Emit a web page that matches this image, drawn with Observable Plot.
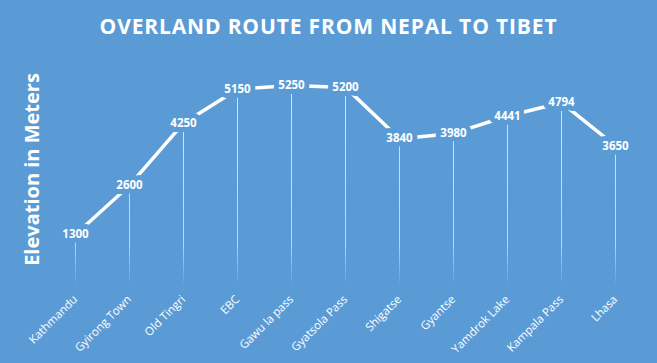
<!DOCTYPE html>
<html><head><meta charset="utf-8">
<script src="https://cdn.jsdelivr.net/npm/d3@7"></script>
<script src="https://cdn.jsdelivr.net/npm/@observablehq/plot@0.6"></script>
<style>
body{margin:0;}
#chart{width:657px;height:363px;background:#5B9BD5;font-family:"Open Sans",sans-serif;color:#fff;overflow:hidden;}
#title{height:50px;line-height:52px;text-align:center;font-weight:bold;font-size:21px;letter-spacing:0.85px;}
svg{display:block;}
</style></head><body>
<div id="chart"><div id="title">OVERLAND ROUTE FROM NEPAL TO TIBET</div></div>
<script>
const places = ["Kathmandu","Gyirong Town","Old Tingri","EBC","Gawu la pass","Gyatsola Pass","Shigatse","Gyantse","Yamdrok Lake","Kampala Pass","Lhasa"];
const elevations = [1300,2600,4250,5150,5250,5200,3840,3980,4441,4794,3650];
const yTitle = "Elevation in Meters";
const data = places.map((p,i)=>({place:p, elev:elevations[i]}));
const bg = "#5B9BD5";
const plot = Plot.plot({
  width:657, height:313,
  marginLeft:74, marginRight:41, marginTop:35, marginBottom:80,
  style:{background:bg, color:"#fff", fontFamily:"Open Sans, sans-serif", overflow:"visible"},
  x:{type:"point", domain:places, padding:0, label:null},
  y:{domain:[0,5250], axis:null},
  marks:[
    Plot.ruleX(data,{x:"place", y1:0, y2:"elev", stroke:"url(#fade)", strokeWidth:1}),
    Plot.line(data,{x:"place", y:"elev", stroke:"#fff", strokeWidth:3.5}),
    Plot.text(data,{x:"place", y:"elev", text:d=>String(d.elev), fill:"#fff", stroke:bg, strokeWidth:10, strokeLinejoin:"round", paintOrder:"stroke", fontWeight:"bold", fontSize:11.5}),
    Plot.axisX({tickSize:0, tickRotate:-45, tickPadding:14, fontSize:11.5, label:null}),
    Plot.text([yTitle], {frameAnchor:"left", textAnchor:"middle", rotate:-90, dx:-42, dy:-15, fill:"#fff", fontWeight:"bold", fontSize:20})
  ]
});
plot.insertAdjacentHTML("afterbegin", `<defs><linearGradient id="fade" gradientUnits="userSpaceOnUse" x1="0" y1="35" x2="0" y2="233">
<stop offset="0" stop-color="#fff" stop-opacity="0.75"/><stop offset="0.8" stop-color="#fff" stop-opacity="0.6"/><stop offset="1" stop-color="#fff" stop-opacity="0.05"/></linearGradient></defs>`);
document.getElementById("chart").appendChild(plot);
</script>
</body></html>
